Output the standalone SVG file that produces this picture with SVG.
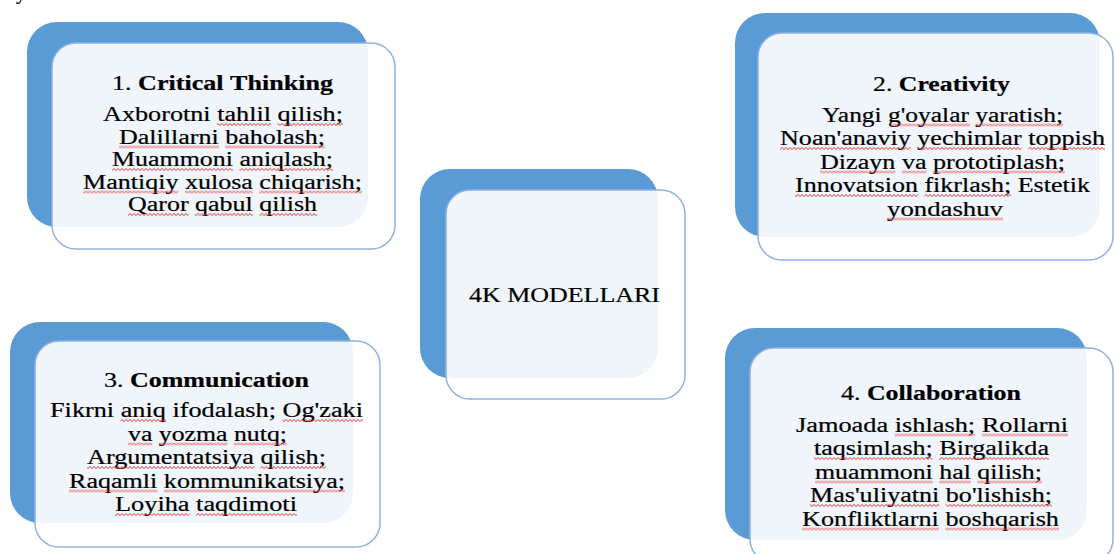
<svg xmlns="http://www.w3.org/2000/svg" width="1115" height="554" viewBox="0 0 1115 554">
<style>
.back{fill:#5B9BD5;}
.front{fill:#FFFFFF;fill-opacity:0.9;stroke:#8DB3E2;stroke-width:1.5;}
text{font-family:"Liberation Serif","Times New Roman",serif;fill:#000;stroke:#000;stroke-width:0.2;}
.t{font-size:21px;}
.b{font-weight:bold;}
.l{font-size:20px;}
.w{fill:url(#wave);}
</style>
<defs>
<pattern id="wave" patternUnits="userSpaceOnUse" x="0" y="0" width="4" height="3">
<path d="M0,2.5 C1,2.5 1,0.5 2,0.5 C3,0.5 3,2.5 4,2.5" fill="none" stroke="#E8302A" stroke-width="0.9"/>
</pattern>
</defs>
<text class="l" x="16" y="-1">y</text>

<g id="node1">
<rect class="back" x="27" y="22" width="341" height="205" rx="30"/>
<rect class="front" x="52" y="43" width="343" height="206" rx="24"/>
<text class="t" x="112" y="90" textLength="221" lengthAdjust="spacingAndGlyphs">1. <tspan class="b">Critical</tspan> <tspan class="b">Thinking</tspan></text>
<text class="l" x="103" y="121" textLength="240" lengthAdjust="spacingAndGlyphs"><tspan>Axborotni</tspan> <tspan>tahlil</tspan> <tspan>qilish;</tspan></text>
<text class="l" x="119" y="143.5" textLength="206" lengthAdjust="spacingAndGlyphs"><tspan>Dalillarni</tspan> <tspan>baholash;</tspan></text>
<text class="l" x="112" y="166" textLength="221" lengthAdjust="spacingAndGlyphs"><tspan>Muammoni</tspan> <tspan>aniqlash;</tspan></text>
<text class="l" x="83" y="188.5" textLength="279" lengthAdjust="spacingAndGlyphs"><tspan>Mantiqiy</tspan> <tspan>xulosa</tspan> <tspan>chiqarish;</tspan></text>
<text class="l" x="128" y="211" textLength="189" lengthAdjust="spacingAndGlyphs"><tspan>Qaror</tspan> <tspan>qabul</tspan> <tspan>qilish</tspan></text>
<g class="w">
<rect x="217" y="0" width="54" height="3" transform="translate(0,123)"/>
<rect x="277.5" y="0" width="65.5" height="3" transform="translate(0,123)"/>
<rect x="119" y="0" width="100" height="3" transform="translate(0,145.5)"/>
<rect x="225.3" y="0" width="99.7" height="3" transform="translate(0,145.5)"/>
<rect x="112" y="0" width="121" height="3" transform="translate(0,168)"/>
<rect x="239.4" y="0" width="93.6" height="3" transform="translate(0,168)"/>
<rect x="83" y="0" width="95.4" height="3" transform="translate(0,190.5)"/>
<rect x="184.9" y="0" width="67.9" height="3" transform="translate(0,190.5)"/>
<rect x="259.4" y="0" width="102.6" height="3" transform="translate(0,190.5)"/>
<rect x="128" y="0" width="60.6" height="3" transform="translate(0,213)"/>
<rect x="195.1" y="0" width="57.7" height="3" transform="translate(0,213)"/>
<rect x="259.3" y="0" width="57.7" height="3" transform="translate(0,213)"/>
</g>
</g>

<g id="node2">
<rect class="back" x="735" y="13" width="365" height="224" rx="30"/>
<rect class="front" x="758" y="33" width="355" height="227" rx="24"/>
<text class="t" x="873" y="91" textLength="137" lengthAdjust="spacingAndGlyphs">2. <tspan class="b">Creativity</tspan></text>
<text class="l" x="822" y="121.5" textLength="241" lengthAdjust="spacingAndGlyphs"><tspan>Yangi</tspan> <tspan>g'oyalar</tspan> <tspan>yaratish;</tspan></text>
<text class="l" x="780" y="145" textLength="325" lengthAdjust="spacingAndGlyphs"><tspan>Noan'anaviy</tspan> <tspan>yechimlar</tspan> <tspan>toppish</tspan></text>
<text class="l" x="820" y="168.5" textLength="245" lengthAdjust="spacingAndGlyphs"><tspan>Dizayn</tspan> <tspan>va</tspan> <tspan>prototiplash;</tspan></text>
<text class="l" x="795" y="192" textLength="295" lengthAdjust="spacingAndGlyphs"><tspan>Innovatsion</tspan> <tspan>fikrlash;</tspan> <tspan>Estetik</tspan></text>
<text class="l" x="887" y="215.5" textLength="116" lengthAdjust="spacingAndGlyphs">yondashuv</text>
<g class="w">
<rect x="889.9" y="0" width="80.1" height="3" transform="translate(0,123.5)"/>
<rect x="976.2" y="0" width="86.8" height="3" transform="translate(0,123.5)"/>
<rect x="780" y="0" width="130.8" height="3" transform="translate(0,147)"/>
<rect x="917.3" y="0" width="104.3" height="3" transform="translate(0,147)"/>
<rect x="1028.2" y="0" width="76.8" height="3" transform="translate(0,147)"/>
<rect x="820" y="0" width="75.4" height="3" transform="translate(0,170.5)"/>
<rect x="901.9" y="0" width="24.6" height="3" transform="translate(0,170.5)"/>
<rect x="933.1" y="0" width="131.9" height="3" transform="translate(0,170.5)"/>
<rect x="795" y="0" width="122.9" height="3" transform="translate(0,194)"/>
<rect x="924.4" y="0" width="86.8" height="3" transform="translate(0,194)"/>
<rect x="887" y="0" width="116" height="3" transform="translate(0,217.5)"/>
</g>
</g>

<g id="node3">
<rect class="back" x="10" y="322" width="343" height="201" rx="30"/>
<rect class="front" x="35" y="341" width="345" height="206" rx="24"/>
<text class="t" x="104" y="387" textLength="205" lengthAdjust="spacingAndGlyphs">3. <tspan class="b">Communication</tspan></text>
<text class="l" x="50" y="417" textLength="313" lengthAdjust="spacingAndGlyphs"><tspan>Fikrni</tspan> <tspan>aniq</tspan> <tspan>ifodalash;</tspan> <tspan>Og'zaki</tspan></text>
<text class="l" x="128" y="440.5" textLength="159" lengthAdjust="spacingAndGlyphs"><tspan>va</tspan> <tspan>yozma</tspan> <tspan>nutq;</tspan></text>
<text class="l" x="87" y="464" textLength="239" lengthAdjust="spacingAndGlyphs"><tspan>Argumentatsiya</tspan> <tspan>qilish;</tspan></text>
<text class="l" x="69" y="487.5" textLength="276" lengthAdjust="spacingAndGlyphs"><tspan>Raqamli</tspan> <tspan>kommunikatsiya;</tspan></text>
<text class="l" x="115" y="511" textLength="182" lengthAdjust="spacingAndGlyphs"><tspan>Loyiha</tspan> <tspan>taqdimoti</tspan></text>
<g class="w">
<rect x="120.7" y="0" width="45.2" height="3" transform="translate(0,419)"/>
<rect x="282.5" y="0" width="80.5" height="3" transform="translate(0,419)"/>
<rect x="128" y="0" width="24.3" height="3" transform="translate(0,442.5)"/>
<rect x="158.8" y="0" width="68.7" height="3" transform="translate(0,442.5)"/>
<rect x="234" y="0" width="53" height="3" transform="translate(0,442.5)"/>
<rect x="87" y="0" width="167.1" height="3" transform="translate(0,466)"/>
<rect x="260.6" y="0" width="65.4" height="3" transform="translate(0,466)"/>
<rect x="69" y="0" width="88.4" height="3" transform="translate(0,489.5)"/>
<rect x="163.9" y="0" width="181.1" height="3" transform="translate(0,489.5)"/>
<rect x="115" y="0" width="74.5" height="3" transform="translate(0,513)"/>
<rect x="196.1" y="0" width="100.9" height="3" transform="translate(0,513)"/>
</g>
</g>

<g id="node4">
<rect class="back" x="725" y="328" width="362" height="212" rx="30"/>
<rect class="front" x="750" y="348" width="363" height="215" rx="24"/>
<text class="t" x="841" y="400" textLength="180" lengthAdjust="spacingAndGlyphs">4. <tspan class="b">Collaboration</tspan></text>
<text class="l" x="796" y="431.5" textLength="272" lengthAdjust="spacingAndGlyphs"><tspan>Jamoada</tspan> <tspan>ishlash;</tspan> <tspan>Rollarni</tspan></text>
<text class="l" x="814" y="455" textLength="235" lengthAdjust="spacingAndGlyphs"><tspan>taqsimlash;</tspan> <tspan>Birgalikda</tspan></text>
<text class="l" x="815" y="478.5" textLength="227" lengthAdjust="spacingAndGlyphs"><tspan>muammoni</tspan> <tspan>hal</tspan> <tspan>qilish;</tspan></text>
<text class="l" x="810" y="502" textLength="242" lengthAdjust="spacingAndGlyphs"><tspan>Mas'uliyatni</tspan> <tspan>bo'lishish;</tspan></text>
<text class="l" x="802" y="525.5" textLength="257" lengthAdjust="spacingAndGlyphs"><tspan>Konfliktlarni</tspan> <tspan>boshqarish</tspan></text>
<g class="w">
<rect x="894.7" y="0" width="80.4" height="3" transform="translate(0,433.5)"/>
<rect x="981.7" y="0" width="86.3" height="3" transform="translate(0,433.5)"/>
<rect x="814" y="0" width="118.6" height="3" transform="translate(0,457)"/>
<rect x="939.1" y="0" width="109.9" height="3" transform="translate(0,457)"/>
<rect x="815" y="0" width="117.8" height="3" transform="translate(0,480.5)"/>
<rect x="939.3" y="0" width="31.6" height="3" transform="translate(0,480.5)"/>
<rect x="977.3" y="0" width="64.7" height="3" transform="translate(0,480.5)"/>
<rect x="810" y="0" width="129.3" height="3" transform="translate(0,504)"/>
<rect x="945.8" y="0" width="106.2" height="3" transform="translate(0,504)"/>
<rect x="802" y="0" width="136.9" height="3" transform="translate(0,527.5)"/>
<rect x="945.4" y="0" width="113.6" height="3" transform="translate(0,527.5)"/>
</g>
</g>

<g id="center">
<rect class="back" x="420" y="169" width="238" height="209" rx="30"/>
<rect class="front" x="446" y="190" width="239" height="209" rx="24"/>
<text x="469" y="302" font-size="22" textLength="191" lengthAdjust="spacingAndGlyphs"><tspan>4K</tspan> <tspan>MODELLARI</tspan></text>
</g>

<g id="connectors"/>
</svg>
